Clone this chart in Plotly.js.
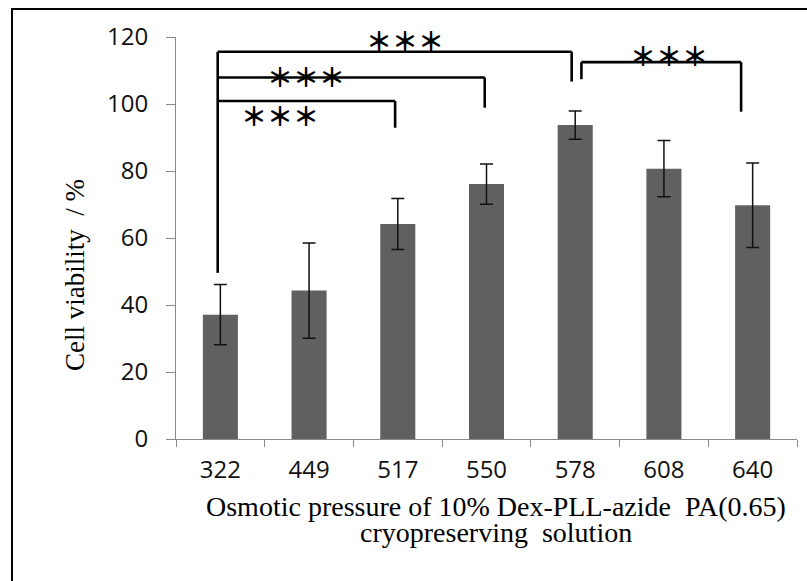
<!DOCTYPE html>
<html>
<head>
<meta charset="utf-8">
<script src="https://cdn.plot.ly/plotly-3.0.1.min.js"></script>
<style>html,body{margin:0;padding:0;background:#fff;}#chart{width:807px;height:581px;}</style>
</head>
<body>
<div id="chart"></div>
<script>
// ---- data ----
const categories = ['322', '449', '517', '550', '578', '608', '640'];
const viability = [37.1, 44.3, 64.2, 76.1, 93.7, 80.7, 69.8];
const viabilityErr = [9.0, 14.2, 7.6, 6.0, 4.2, 8.4, 12.6];
const yTicks = [0, 20, 40, 60, 80, 100, 120];
const sigLabel = '＊＊＊';

// ---- significance brackets (category index / y value) ----
const brackets = [
  {x0: -0.03, x1: 3.96, y: 115.6, yL: 49.6, yR: 106.7, tx: 2.08, ty: 119.2},
  {x0: -0.03, x1: 2.98, y: 107.9, yL: 107.9, yR: 98.9, tx: 0.97, ty: 108.4},
  {x0: -0.03, x1: 1.97, y: 100.9, yL: 100.9, yR: 92.9, tx: 0.67, ty: 96.9},
  {x0: 4.07, x1: 5.87, y: 112.5, yL: 107.4, yR: 97.7, tx: 5.06, ty: 114.8}
];

const lineStyle = {color: '#000', width: 2.6};
const shapes = [];
const annotations = [];
brackets.forEach(b => {
  shapes.push({type: 'line', xref: 'x', yref: 'y', x0: b.x0, x1: b.x1, y0: b.y, y1: b.y, line: lineStyle});
  if (b.yL !== b.y) shapes.push({type: 'line', xref: 'x', yref: 'y', x0: b.x0, x1: b.x0, y0: b.y, y1: b.yL, line: lineStyle});
  shapes.push({type: 'line', xref: 'x', yref: 'y', x0: b.x1, x1: b.x1, y0: b.y, y1: b.yR, line: lineStyle});
  annotations.push({xref: 'x', yref: 'y', x: b.tx, y: b.ty, text: '<b>' + sigLabel + '</b>', showarrow: false,
    xanchor: 'center', yanchor: 'middle',
    font: {family: 'Noto Sans CJK JP', size: 26, color: '#000'}});
});

// outer frame (top and left only)
shapes.push({type: 'line', xref: 'paper', yref: 'paper', x0: -0.2641, x1: 1.02, y0: 1.0696, y1: 1.0696, line: {color: '#000', width: 2}});
shapes.push({type: 'line', xref: 'paper', yref: 'paper', x0: -0.2641, x1: -0.2641, y0: 1.0721, y1: -0.36, line: {color: '#000', width: 2}});

// axis titles
annotations.push({xref: 'paper', yref: 'paper', x: -0.1626, y: 0.408, textangle: -90,
  text: 'Cell viability  / %', showarrow: false, xanchor: 'center', yanchor: 'middle',
  font: {family: 'Liberation Serif', size: 27, color: '#000'}});
annotations.push({xref: 'paper', yref: 'paper', x: 0.5145, y: -0.168,
  text: 'Osmotic pressure of 10% Dex-PLL-azide  PA(0.65)', showarrow: false, xanchor: 'center', yanchor: 'middle',
  font: {family: 'Liberation Serif', size: 28, color: '#000'}});
annotations.push({xref: 'paper', yref: 'paper', x: 0.5145, y: -0.232,
  text: 'cryopreserving  solution', showarrow: false, xanchor: 'center', yanchor: 'middle',
  font: {family: 'Liberation Serif', size: 28, color: '#000'}});

const trace = {
  type: 'bar',
  x: categories,
  y: viability,
  marker: {color: '#606060', line: {width: 0}},
  error_y: {type: 'data', array: viabilityErr, visible: true, color: '#111', thickness: 1.5, width: 6.5},
  hoverinfo: 'none'
};

const axisGray = '#8a8a8a';
const tickFont = {family: 'Open Sans', size: 24, color: '#111'};

const layout = {
  width: 807, height: 581,
  margin: {l: 176, r: 10, t: 37, b: 142, pad: 0},
  paper_bgcolor: '#fff', plot_bgcolor: '#fff',
  showlegend: false,
  bargap: 0.605,
  xaxis: {
    type: 'category', tickson: 'boundaries', ticks: 'outside', ticklen: 7, tickwidth: 1,
    tickcolor: axisGray, showline: true, linecolor: axisGray, linewidth: 1,
    showgrid: false, zeroline: false, tickfont: tickFont, ticklabelstandoff: 9,
    range: [-0.5, 6.5], fixedrange: true
  },
  yaxis: {
    range: [0, 120], tickvals: yTicks, ticktext: yTicks.map(String), ticks: 'outside', ticklen: 9, tickwidth: 1,
    tickcolor: axisGray, showline: true, linecolor: axisGray, linewidth: 1,
    showgrid: false, zeroline: false, tickfont: tickFont, ticklabelstandoff: 13, fixedrange: true
  },
  shapes: shapes,
  annotations: annotations
};

Plotly.newPlot('chart', [trace], layout, {displayModeBar: false, staticPlot: true});
</script>
</body>
</html>
